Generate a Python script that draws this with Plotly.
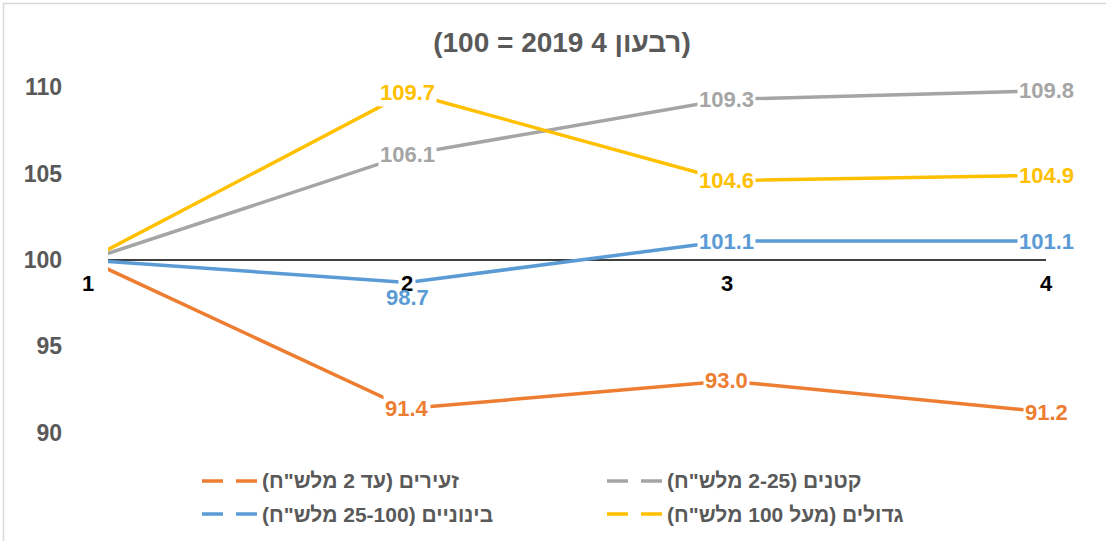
import plotly.graph_objects as go

# ---------------- data ----------------
quarters = ["1", "2", "3", "4"]
series_names = [
    'זעירים (עד 2 מלש"ח)',
    'קטנים (2-25 מלש"ח)',
    'בינוניים (25-100 מלש"ח)',
    'גדולים (מעל 100 מלש"ח)',
]
micro = [100.0, 91.4, 93.0, 91.2]
small = [100.0, 106.1, 109.3, 109.8]
medium = [100.0, 98.7, 101.1, 101.1]
large = [100.0, 109.7, 104.6, 104.9]
y_ticks = [90, 95, 100, 105, 110]
title_text = "(רבעון 4 2019 = 100)"

# ---------------- style ----------------
colors = ["#ED7D31", "#A5A5A5", "#5B9BD5", "#FFC000"]
FONT = "Liberation Sans, Arial, DejaVu Sans, sans-serif"
GREY_TXT = "#595959"
RLM = "\u200f"

W, H = 1106, 541
L, R, T, B = 108, 60, 70, 91
pw, ph = W - L - R, H - T - B
XMIN, XMAX = 1 + 20 / 319.5, 4.0


def px(x):
    return (x - L) / pw


def py(y):
    return (H - B - y) / ph


xs = [i + 1 for i in range(len(quarters))]
all_series = [micro, small, medium, large]

fig = go.Figure()

for name, vals, col in zip(series_names, all_series, colors):
    fig.add_trace(go.Scatter(
        x=xs, y=vals, mode="lines", name=name,
        line=dict(color=col, width=3.5),
        showlegend=False, hoverinfo="skip",
    ))

shapes = []
annotations = []

# horizontal axis line at 100
shapes.append(dict(type="line", xref="x", yref="y", x0=xs[0], x1=xs[-1],
                   y0=100, y1=100, line=dict(color="#000000", width=1.5),
                   layer="below"))

# category labels sitting on the 100 line (paper x so the first one shows
# even though it lies left of the plotting area)
for q, xv in zip(quarters, xs):
    annotations.append(dict(
        x=(xv - XMIN) / (XMAX - XMIN), y=100, xref="paper", yref="y",
        xanchor="center", yanchor="middle",
        text=f"<b>{q}</b>", showarrow=False,
        yshift=-23, font=dict(family=FONT, size=22, color="#000000"),
        bgcolor="#FFFFFF", borderpad=2,
    ))

# data labels (the shifted one drawn last, transparent, so it never hides "2")
late = []
for si, (vals, col) in enumerate(zip(all_series, colors)):
    for i in range(1, len(vals)):
        moved = (si == 2 and i == 1)
        ann = dict(
            x=xs[i], y=vals[i], xref="x", yref="y",
            xanchor="center", yanchor="middle",
            text=f"<b>{vals[i]:.1f}</b>", showarrow=False,
            yshift=-15 if moved else 0,
            font=dict(family=FONT, size=22, color=col),
            bgcolor="rgba(0,0,0,0)" if moved else "#FFFFFF", borderpad=1,
        )
        (late if moved else annotations).append(ann)
annotations.extend(late)

# manual legend (dashed samples)
leg_cols = [202, 607]
leg_rows = [481, 514]
for k, (name, col) in enumerate(zip(series_names, colors)):
    x0 = leg_cols[k % 2]
    y0 = leg_rows[k // 2]
    shapes.append(dict(type="line", xref="paper", yref="paper",
                       x0=px(x0), x1=px(x0 + 56), y0=py(y0), y1=py(y0),
                       line=dict(color=col, width=3.5, dash="21px,13px")))
    annotations.append(dict(
        x=px(x0 + 58), y=py(y0), xref="paper", yref="paper",
        xanchor="left", yanchor="middle", showarrow=False,
        text=f"<b>{RLM}{name}{RLM}</b>",
        font=dict(family=FONT, size=21, color=GREY_TXT),
    ))

# chart border
shapes.append(dict(type="rect", xref="paper", yref="paper",
                   x0=px(3.5), x1=px(W + 5), y0=py(H + 5), y1=py(3.5),
                   line=dict(color="#D9D9D9", width=1.5), layer="above"))

fig.update_layout(
    width=W, height=H,
    margin=dict(l=L, r=R, t=T, b=B),
    paper_bgcolor="#FFFFFF", plot_bgcolor="#FFFFFF",
    title=dict(text=f"<b>{RLM}{title_text}{RLM}</b>", x=562 / W, y=1 - 42 / H,
               xref="container", yref="container",
               xanchor="center", yanchor="middle",
               font=dict(family=FONT, size=28, color=GREY_TXT)),
    xaxis=dict(range=[XMIN, XMAX], visible=False, fixedrange=True),
    yaxis=dict(range=[89, 111], tickvals=y_ticks,
               ticktext=[f"<b>{v}</b>" for v in y_ticks],
               showgrid=False, zeroline=False, showline=False,
               ticks="", ticklabelstandoff=45, fixedrange=True,
               tickfont=dict(family=FONT, size=23, color=GREY_TXT)),
    shapes=shapes, annotations=annotations, showlegend=False,
)

fig.write_html("out.html",
               config={"displayModeBar": False},
               post_script="document.body.style.margin='0';"
                           "document.body.style.overflow='hidden';")
